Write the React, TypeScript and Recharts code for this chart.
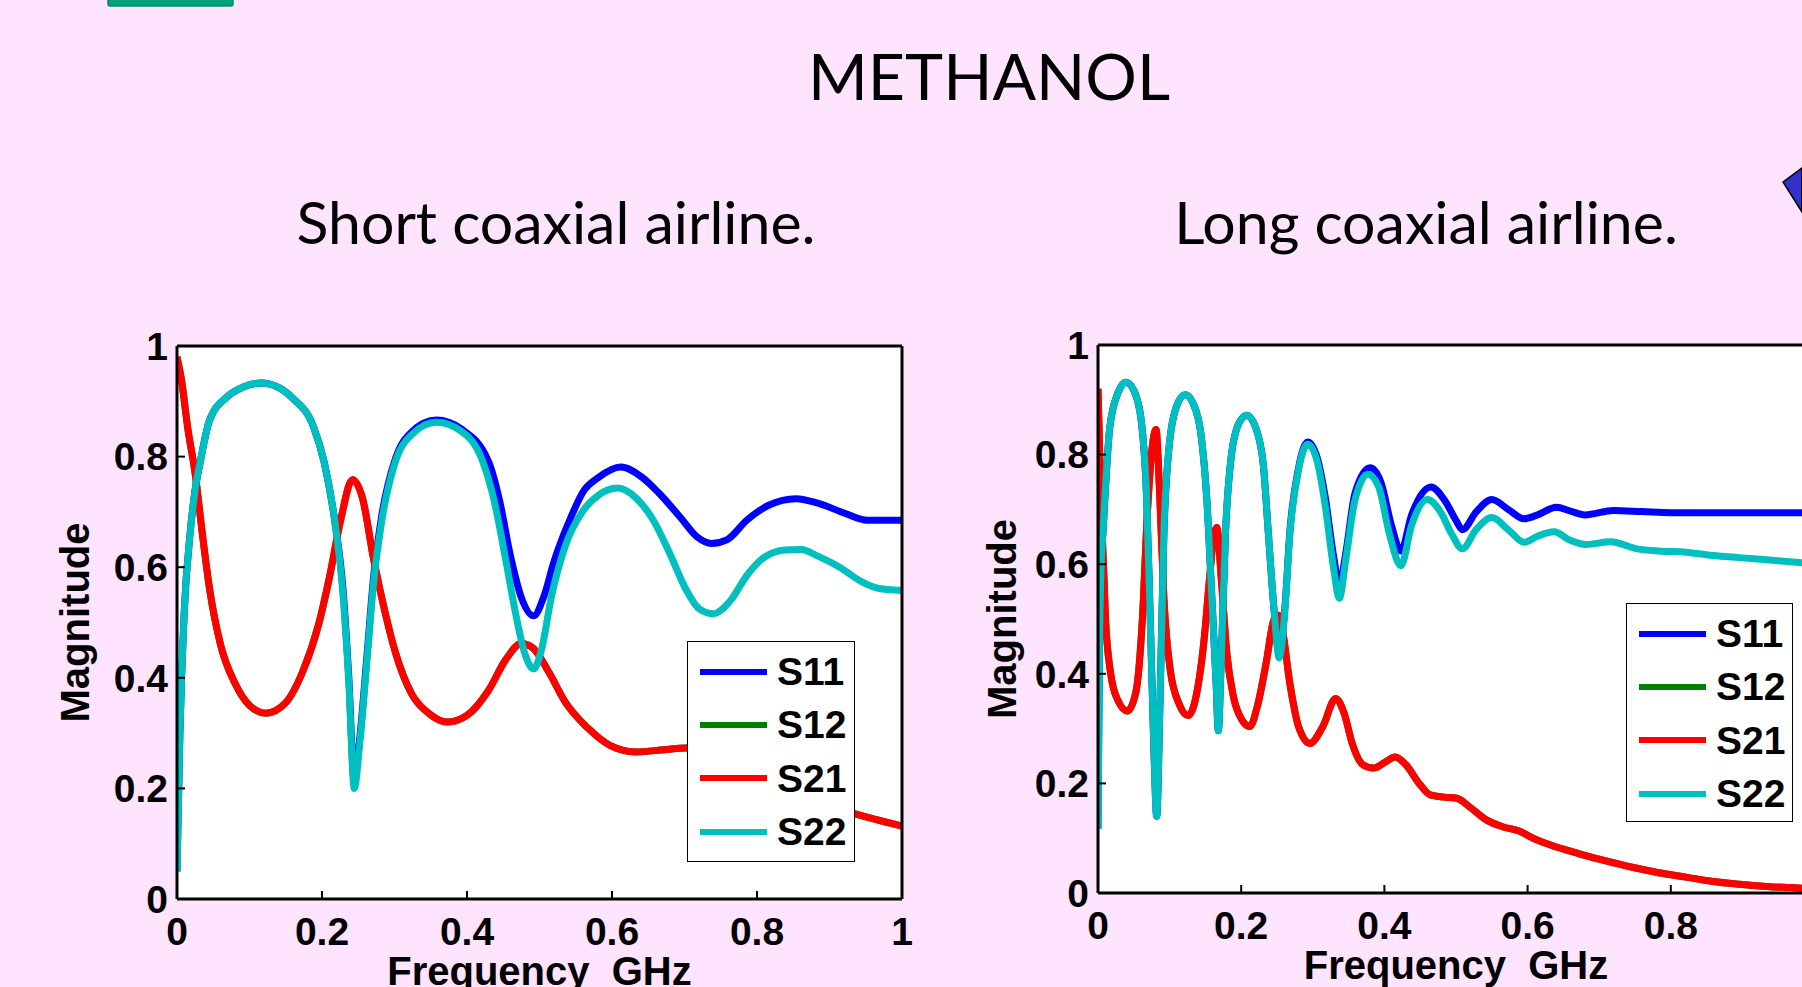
import React from 'react';
import { LineChart, Line, XAxis, YAxis, CartesianGrid, Legend } from 'recharts';

type Pt = [number, number];

const freqTicks = [0, 0.2, 0.4, 0.6, 0.8, 1];
const magTicks = [0, 0.2, 0.4, 0.6, 0.8, 1];
const seriesNames = ['S11', 'S12', 'S21', 'S22'];
const seriesColors = ['#0000ff', '#008000', '#ff0000', '#00bfbf'];

// Short coaxial airline
const shortS11: Pt[] = [
  [0, 0.05], [0.004, 0.3], [0.01, 0.52], [0.018, 0.66], [0.025, 0.74], [0.032, 0.79], [0.045, 0.866],
  [0.069, 0.908], [0.09, 0.925], [0.116, 0.933], [0.14, 0.925], [0.16, 0.905], [0.188, 0.855], [0.203, 0.79],
  [0.218, 0.68], [0.229, 0.56], [0.237, 0.4], [0.2445, 0.215], [0.252, 0.29], [0.262, 0.44], [0.271, 0.58],
  [0.282, 0.69], [0.301, 0.795], [0.324, 0.845], [0.358, 0.866], [0.392, 0.85], [0.43, 0.79], [0.445, 0.72],
  [0.46, 0.62], [0.475, 0.545], [0.492, 0.512], [0.506, 0.547], [0.52, 0.61], [0.54, 0.68], [0.562, 0.74],
  [0.581, 0.762], [0.612, 0.781], [0.642, 0.762], [0.664, 0.735], [0.695, 0.689], [0.718, 0.654], [0.737, 0.643],
  [0.759, 0.65], [0.786, 0.685], [0.816, 0.712], [0.854, 0.724], [0.884, 0.716], [0.922, 0.697], [0.952, 0.685],
  [1.0, 0.685],
];
const shortS21: Pt[] = [
  [0, 0.98], [0.006, 0.94], [0.015, 0.85], [0.025, 0.77], [0.035, 0.66], [0.045, 0.56], [0.06, 0.46],
  [0.08, 0.39], [0.1, 0.35], [0.123, 0.336], [0.15, 0.355], [0.173, 0.41], [0.195, 0.495], [0.21, 0.58],
  [0.226, 0.687], [0.242, 0.758], [0.256, 0.724], [0.271, 0.616], [0.286, 0.524], [0.301, 0.447], [0.324, 0.37],
  [0.347, 0.336], [0.373, 0.32], [0.4, 0.332], [0.43, 0.378], [0.453, 0.432], [0.475, 0.462], [0.49, 0.455],
  [0.513, 0.41], [0.536, 0.355], [0.566, 0.31], [0.597, 0.278], [0.634, 0.266], [0.672, 0.27], [0.702, 0.273],
  [0.75, 0.25], [0.8, 0.215], [0.85, 0.188], [0.9, 0.168], [0.933, 0.155], [1.0, 0.132],
];
// transmission is reciprocal: S12 lies under S21
const shortS12: Pt[] = shortS21;
const shortS22: Pt[] = [
  [0, 0.05], [0.004, 0.3], [0.01, 0.52], [0.018, 0.66], [0.025, 0.74], [0.032, 0.79], [0.045, 0.866],
  [0.069, 0.908], [0.09, 0.925], [0.116, 0.933], [0.14, 0.925], [0.16, 0.905], [0.188, 0.855], [0.203, 0.79],
  [0.218, 0.68], [0.229, 0.55], [0.237, 0.39], [0.2445, 0.2], [0.252, 0.28], [0.262, 0.43], [0.271, 0.57],
  [0.282, 0.68], [0.301, 0.79], [0.324, 0.84], [0.358, 0.862], [0.392, 0.846], [0.422, 0.79], [0.4375, 0.72],
  [0.453, 0.616], [0.468, 0.51], [0.479, 0.447], [0.492, 0.416], [0.502, 0.447], [0.517, 0.55], [0.536, 0.64],
  [0.559, 0.7], [0.581, 0.73], [0.608, 0.743], [0.634, 0.724], [0.657, 0.685], [0.68, 0.624], [0.702, 0.56],
  [0.721, 0.524], [0.74, 0.516], [0.763, 0.539], [0.786, 0.585], [0.808, 0.616], [0.839, 0.631], [0.861, 0.632],
  [0.884, 0.62], [0.914, 0.6], [0.944, 0.574], [0.967, 0.562], [1.0, 0.558],
];

// Long coaxial airline
const longS11: Pt[] = [
  [0, 0.117], [0.002, 0.45], [0.004, 0.58], [0.0075, 0.67], [0.0165, 0.85], [0.028, 0.913], [0.039, 0.932],
  [0.05, 0.917], [0.06, 0.866], [0.068, 0.718], [0.073, 0.5], [0.078, 0.265], [0.082, 0.14], [0.0865, 0.343],
  [0.092, 0.655], [0.099, 0.81], [0.11, 0.889], [0.122, 0.909], [0.133, 0.893], [0.144, 0.835], [0.152, 0.718],
  [0.159, 0.54], [0.165, 0.382], [0.168, 0.296], [0.172, 0.42], [0.178, 0.655], [0.186, 0.796], [0.197, 0.858],
  [0.208, 0.872], [0.22, 0.85], [0.231, 0.78], [0.238, 0.655], [0.246, 0.515], [0.253, 0.44], [0.261, 0.52],
  [0.268, 0.66], [0.28, 0.775], [0.293, 0.823], [0.306, 0.795], [0.317, 0.725], [0.329, 0.615], [0.337, 0.561],
  [0.346, 0.62], [0.359, 0.73], [0.38, 0.776], [0.395, 0.75], [0.41, 0.67], [0.423, 0.624], [0.438, 0.69],
  [0.465, 0.741], [0.485, 0.715], [0.5, 0.68], [0.509, 0.663], [0.528, 0.695], [0.55, 0.718], [0.573, 0.7],
  [0.595, 0.683], [0.614, 0.69], [0.64, 0.704], [0.66, 0.697], [0.68, 0.69], [0.72, 0.698], [0.76, 0.696],
  [0.8, 0.694], [1.0, 0.694],
];
const longS21: Pt[] = [
  [0, 0.92], [0.003, 0.772], [0.006, 0.655], [0.0105, 0.5], [0.018, 0.398], [0.028, 0.351], [0.041, 0.332],
  [0.053, 0.367], [0.062, 0.5], [0.069, 0.694], [0.077, 0.827], [0.081, 0.846], [0.086, 0.733], [0.092, 0.538],
  [0.101, 0.406], [0.114, 0.343], [0.126, 0.324], [0.137, 0.359], [0.148, 0.46], [0.156, 0.577], [0.162, 0.655],
  [0.166, 0.667], [0.172, 0.577], [0.18, 0.437], [0.189, 0.359], [0.201, 0.316], [0.212, 0.304], [0.223, 0.343],
  [0.235, 0.421], [0.246, 0.5], [0.252, 0.507], [0.257, 0.484], [0.268, 0.382], [0.28, 0.304], [0.296, 0.273],
  [0.314, 0.304], [0.332, 0.355], [0.344, 0.327], [0.355, 0.273], [0.37, 0.234], [0.385, 0.228], [0.4, 0.238],
  [0.415, 0.248], [0.43, 0.234], [0.449, 0.199], [0.464, 0.179], [0.483, 0.175], [0.501, 0.173], [0.52, 0.156],
  [0.543, 0.133], [0.565, 0.121], [0.588, 0.113], [0.611, 0.098], [0.633, 0.087], [0.671, 0.072], [0.708, 0.059],
  [0.746, 0.047], [0.783, 0.037], [0.821, 0.029], [0.859, 0.021], [0.896, 0.016], [0.934, 0.012], [1.0, 0.008],
];
const longS12: Pt[] = longS21;
const longS22: Pt[] = [
  [0, 0.117], [0.002, 0.45], [0.004, 0.58], [0.0075, 0.67], [0.0165, 0.85], [0.028, 0.913], [0.039, 0.932],
  [0.05, 0.917], [0.06, 0.866], [0.068, 0.718], [0.073, 0.5], [0.078, 0.265], [0.082, 0.14], [0.0865, 0.343],
  [0.092, 0.655], [0.099, 0.81], [0.11, 0.889], [0.122, 0.909], [0.133, 0.893], [0.144, 0.835], [0.152, 0.718],
  [0.159, 0.54], [0.165, 0.382], [0.168, 0.296], [0.172, 0.42], [0.178, 0.655], [0.186, 0.796], [0.197, 0.858],
  [0.208, 0.872], [0.22, 0.85], [0.231, 0.78], [0.238, 0.655], [0.246, 0.515], [0.253, 0.429], [0.261, 0.515],
  [0.268, 0.655], [0.28, 0.772], [0.293, 0.819], [0.306, 0.788], [0.317, 0.71], [0.329, 0.593], [0.337, 0.538],
  [0.346, 0.608], [0.359, 0.718], [0.377, 0.764], [0.392, 0.741], [0.407, 0.655], [0.423, 0.597], [0.438, 0.671],
  [0.46, 0.718], [0.479, 0.694], [0.494, 0.655], [0.509, 0.628], [0.528, 0.663], [0.55, 0.685], [0.573, 0.663],
  [0.595, 0.64], [0.614, 0.651], [0.637, 0.659], [0.659, 0.644], [0.682, 0.636], [0.716, 0.641], [0.753, 0.628],
  [0.783, 0.624], [0.821, 0.622], [0.859, 0.616], [0.896, 0.612], [0.934, 0.608], [1.0, 0.601],
];

const BOLD = 'Liberation Sans, Arial, sans-serif';
const TITLE_FONT = 'Lato, Open Sans, sans-serif';

const toRows = (pts: Pt[]) => pts.map(([f, m]) => ({ f, m }));

function LegendBox({ payload, boxW, boxH }: any) {
  return (
    <div
      style={{
        width: boxW,
        height: boxH,
        background: '#fff',
        border: '1.5px solid #000',
        boxSizing: 'border-box',
        paddingTop: 3,
      }}
    >
      {(payload || []).map((p: any) => (
        <div key={p.value} style={{ display: 'flex', alignItems: 'center', height: 53.3 }}>
          <svg width={80} height={10} style={{ display: 'block' }}>
            <line x1={12} x2={79} y1={5} y2={5} stroke={p.color} strokeWidth={6} />
          </svg>
          <span style={{ marginLeft: 9, fontFamily: BOLD, fontWeight: 700, fontSize: 39, lineHeight: 1, color: '#000' }}>
            {p.value}
          </span>
        </div>
      ))}
    </div>
  );
}

interface PanelProps {
  left: number;
  width: number;
  marginTop: number;
  marginRight: number;
  yAxisWidth: number;
  xAxisHeight: number;
  yLabelOffset: number;
  xLabelOffset: number;
  legendLeft: number;
  legendTop: number;
  legendW: number;
  legendH: number;
  series: Pt[][];
}

function Panel(p: PanelProps) {
  const tickStyle = { fill: '#000', fontSize: 39, fontWeight: 700, fontFamily: BOLD };
  const labelStyle = { fill: '#000', fontSize: 40, fontWeight: 700, fontFamily: BOLD, textAnchor: 'middle' as const };
  const boxLine = { stroke: '#000', strokeWidth: 3 };
  const tickMark = { stroke: '#000', strokeWidth: 2 };
  return (
    <div style={{ position: 'absolute', left: p.left, top: 300 }}>
      <LineChart width={p.width} height={687} margin={{ top: p.marginTop - 1, right: p.marginRight - 1, left: 0, bottom: 0 }}>
        <CartesianGrid fill="#fff" stroke="none" />
        <XAxis
          type="number"
          dataKey="f"
          domain={[0, 1]}
          ticks={freqTicks}
          interval={0}
          allowDataOverflow
          height={p.xAxisHeight}
          tickSize={-8}
          tickMargin={26}
          tick={tickStyle}
          axisLine={boxLine}
          tickLine={tickMark}
          label={{ value: 'Frequency\u00A0\u00A0GHz', position: 'insideBottom', offset: p.xLabelOffset, style: labelStyle }}
        />
        <XAxis
          xAxisId="top"
          orientation="top"
          type="number"
          domain={[0, 1]}
          ticks={freqTicks}
          interval={0}
          height={1}
          tickSize={-8}
          tick={false}
          axisLine={boxLine}
          tickLine={tickMark}
        />
        <YAxis
          type="number"
          domain={[0, 1]}
          ticks={magTicks}
          interval={0}
          allowDataOverflow
          width={p.yAxisWidth}
          tickSize={-8}
          tickMargin={17}
          tick={tickStyle}
          axisLine={boxLine}
          tickLine={tickMark}
          label={{ value: 'Magnitude', angle: -90, position: 'insideLeft', offset: p.yLabelOffset, style: labelStyle }}
        />
        <YAxis
          yAxisId="right"
          orientation="right"
          type="number"
          domain={[0, 1]}
          ticks={magTicks}
          interval={0}
          width={1}
          tickSize={-8}
          tick={false}
          axisLine={boxLine}
          tickLine={tickMark}
        />
        {p.series.map((pts, i) => (
          <Line
            key={seriesNames[i]}
            name={seriesNames[i]}
            data={toRows(pts)}
            dataKey="m"
            type="monotone"
            stroke={seriesColors[i]}
            strokeWidth={7}
            dot={false}
            activeDot={false}
            isAnimationActive={false}
          />
        ))}
        <Legend
          layout="vertical"
          align="center"
          verticalAlign="middle"
          wrapperStyle={{ left: p.legendLeft, top: p.legendTop, width: p.legendW, height: p.legendH }}
          content={(props: any) => <LegendBox payload={props.payload} boxW={p.legendW} boxH={p.legendH} />}
        />
      </LineChart>
    </div>
  );
}

export default function App() {
  return (
    <div
      style={{
        position: 'fixed',
        left: 0,
        top: 0,
        width: 1802,
        height: 987,
        overflow: 'hidden',
        background: '#ffe4ff',
      }}
    >
      <svg width={1802} height={987} style={{ position: 'absolute', left: 0, top: 0 }}>
        <rect x={108} y={-6} width={125} height={12} rx={2} fill="#00a27a" stroke="#0a8a68" strokeWidth={1.5} />
        <polygon points="1783,182 1802,168 1802,212" fill="#3333cc" stroke="#000" strokeWidth={1.5} />
        <text x={989} y={100} textAnchor="middle" fontFamily={TITLE_FONT} fontSize={64.5} fill="#000">
          METHANOL
        </text>
        <text x={556} y={244} textAnchor="middle" fontFamily={TITLE_FONT} fontSize={59} fill="#000">
          Short coaxial airline.
        </text>
        <text x={1426} y={244} textAnchor="middle" fontFamily={TITLE_FONT} fontSize={59} fill="#000">
          Long coaxial airline.
        </text>
      </svg>
      <Panel
        left={0}
        width={960}
        marginTop={46}
        marginRight={58}
        yAxisWidth={177}
        xAxisHeight={88}
        yLabelOffset={75}
        xLabelOffset={2}
        legendLeft={687}
        legendTop={341}
        legendW={168}
        legendH={221}
        series={[shortS11, shortS12, shortS21, shortS22]}
      />
      <Panel
        left={960}
        width={900}
        marginTop={45}
        marginRight={46}
        yAxisWidth={138}
        xAxisHeight={94}
        yLabelOffset={42}
        xLabelOffset={8}
        legendLeft={666}
        legendTop={303}
        legendW={167}
        legendH={219}
        series={[longS11, longS12, longS21, longS22]}
      />
    </div>
  );
}
